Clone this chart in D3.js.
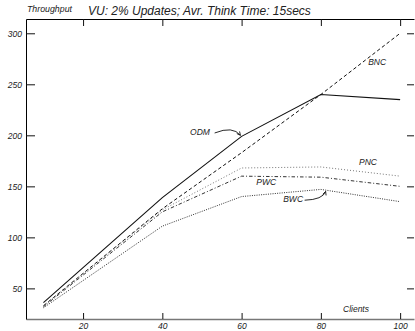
<!DOCTYPE html>
<html>
<head>
<meta charset="utf-8">
<script src="https://cdn.jsdelivr.net/npm/d3@7"></script>
<style>
  body { margin: 0; background: #fff; }
  text { font-family: "Liberation Sans", Arial, sans-serif; font-style: italic; fill: #222; }
</style>
</head>
<body>
<svg id="chart" width="415" height="331"></svg>
<script>
// data
const clients = [10, 40, 60, 80, 100]
const odm = [36, 139, 199, 240, 235]
const bnc = [33, 128, 183, 240, 300]
const pnc = [33, 127, 168, 169, 160]
const pwc = [32, 125, 160, 159, 150]
const bwc = [31, 111, 140, 147, 135]
const xTicks = [20, 40, 60, 80, 100]
const yTicks = [50, 100, 150, 200, 250, 300]

const series = [
  { name: 'ODM', values: odm, dash: null, color: '#111', width: 1.1 },
  { name: 'BNC', values: bnc, dash: '3.5,2.5', color: '#111', width: 1 },
  { name: 'PNC', values: pnc, dash: '1,2', color: '#777', width: 1 },
  { name: 'PWC', values: pwc, dash: '3.5,2,1,2', color: '#333', width: 1 },
  { name: 'BWC', values: bwc, dash: '1,1.3', color: '#333', width: 1 }
]

// labels + arrows, in data space
const labels = [
  { text: 'ODM', x: 49.5, y: 200 },
  { text: 'BNC', x: 94.2, y: 268.5 },
  { text: 'PNC', x: 91.9, y: 171 },
  { text: 'PWC', x: 66.2, y: 151.5 },
  { text: 'BWC', x: 73, y: 135 }
]
const arrows = [
  [[53.2, 202.3], [57.8, 209.5], [59.7, 200]],
  [[75.9, 136.4], [80.5, 137], [81.2, 145]]
]

const svg = d3.select('#chart')
const m = { left: 26, right: 414, top: 19, bottom: 319 }

const x = d3.scaleLinear().domain([5.6, 103.5]).range([m.left, m.right])
const y = d3.scaleLinear().domain([20, 314]).range([m.bottom, m.top])

// axes, ticks point inward
const gx = svg.append('g').attr('transform', `translate(0,${m.bottom})`)
  .call(d3.axisBottom(x).tickValues(xTicks).tickSize(-6).tickSizeOuter(0).tickPadding(4))
gx.select('.domain').attr('stroke', '#777').attr('stroke-width', 1.6)

svg.append('g').attr('transform', `translate(0,${m.top})`)
  .call(d3.axisTop(x).tickValues(xTicks).tickSize(-7).tickSizeOuter(0).tickFormat(''))

svg.append('g').attr('transform', `translate(${m.left},0)`)
  .call(d3.axisLeft(y).tickValues(yTicks).tickSize(-9).tickSizeOuter(0).tickPadding(4))

svg.append('g').attr('transform', `translate(${m.right},0)`)
  .call(d3.axisRight(y).tickValues(yTicks).tickSize(-7).tickSizeOuter(0).tickFormat(''))
  .select('.domain').remove()

svg.selectAll('.tick line').attr('stroke', '#111')
svg.selectAll('.tick text')
  .attr('font-family', '"Liberation Sans", Arial, sans-serif')
  .attr('font-size', 8.5)
  .attr('font-style', 'italic')
  .attr('fill', '#222')

// lines
const line = d3.line()
  .x((d, i) => x(clients[i]))
  .y(d => y(d))

svg.append('g').selectAll('path')
  .data(series)
  .join('path')
  .attr('d', d => line(d.values))
  .attr('fill', 'none')
  .attr('stroke', d => d.color)
  .attr('stroke-width', d => d.width)
  .attr('stroke-dasharray', d => d.dash)

// series labels
svg.append('g').selectAll('text')
  .data(labels)
  .join('text')
  .attr('x', d => x(d.x))
  .attr('y', d => y(d.y))
  .attr('text-anchor', 'middle')
  .attr('font-size', 8.5)
  .text(d => d.text)

// annotation arrows
arrows.forEach(a => {
  const p = a.map(d => [x(d[0]), y(d[1])])
  const path = d3.path()
  path.moveTo(p[0][0], p[0][1])
  path.quadraticCurveTo(p[1][0], p[1][1], p[2][0], p[2][1])
  svg.append('path').attr('d', path.toString())
    .attr('fill', 'none').attr('stroke', '#111').attr('stroke-width', 0.9)
  // arrow head
  const ang = Math.atan2(p[2][1] - p[1][1], p[2][0] - p[1][0])
  const len = 4, spread = 0.45
  svg.append('path')
    .attr('d', `M${p[2][0]},${p[2][1]}L${p[2][0] - len * Math.cos(ang - spread)},${p[2][1] - len * Math.sin(ang - spread)}M${p[2][0]},${p[2][1]}L${p[2][0] - len * Math.cos(ang + spread)},${p[2][1] - len * Math.sin(ang + spread)}`)
    .attr('stroke', '#111').attr('stroke-width', 0.9).attr('fill', 'none')
})

// titles
svg.append('text').attr('x', 27).attr('y', 12).attr('font-size', 8.8).text('Throughput')
svg.append('text').attr('x', 88).attr('y', 15).attr('font-size', 12)
  .text('VU: 2% Updates; Avr. Think Time: 15secs')
svg.append('text').attr('x', 356).attr('y', 312).attr('text-anchor', 'middle')
  .attr('font-size', 8.5).text('Clients')
</script>
</body>
</html>
